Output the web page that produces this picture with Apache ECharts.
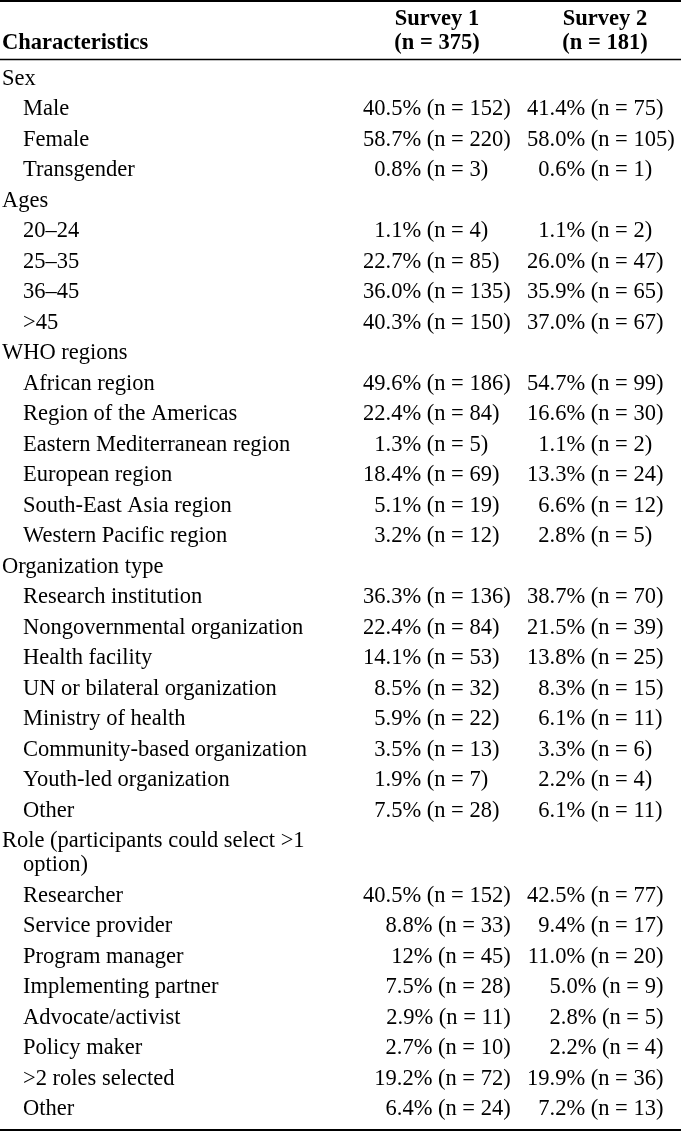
<!DOCTYPE html>
<html>
<head>
<meta charset="utf-8">
<script src="https://cdn.jsdelivr.net/npm/echarts@6/dist/echarts.min.js"></script>
<style>
html, body { margin: 0; padding: 0; background: #fff; }
#chart { width: 681px; height: 1132px; }
</style>
</head>
<body>
<div id="chart"></div>
<script>
// header texts
var colHeads = ["Characteristics", "Survey 1", "(n = 375)", "Survey 2", "(n = 181)"];
var sections = ["Sex", "Ages", "WHO regions", "Organization type", "Role (participants could select >1\noption)"];

var sexLabels = ["Male", "Female", "Transgender"];
var sexPct1 = ["40.5", "58.7", "0.8"];
var sexN1 = [152, 220, 3];
var sexPct2 = ["41.4", "58.0", "0.6"];
var sexN2 = [75, 105, 1];

var ageLabels = ["20\u201324", "25\u201335", "36\u201345", ">45"];
var agePct1 = ["1.1", "22.7", "36.0", "40.3"];
var ageN1 = [4, 85, 135, 150];
var agePct2 = ["1.1", "26.0", "35.9", "37.0"];
var ageN2 = [2, 47, 65, 67];

var whoLabels = ["African region", "Region of the Americas", "Eastern Mediterranean region", "European region", "South-East Asia region", "Western Pacific region"];
var whoPct1 = ["49.6", "22.4", "1.3", "18.4", "5.1", "3.2"];
var whoN1 = [186, 84, 5, 69, 19, 12];
var whoPct2 = ["54.7", "16.6", "1.1", "13.3", "6.6", "2.8"];
var whoN2 = [99, 30, 2, 24, 12, 5];

var orgLabels = ["Research institution", "Nongovernmental organization", "Health facility", "UN or bilateral organization", "Ministry of health", "Community-based organization", "Youth-led organization", "Other"];
var orgPct1 = ["36.3", "22.4", "14.1", "8.5", "5.9", "3.5", "1.9", "7.5"];
var orgN1 = [136, 84, 53, 32, 22, 13, 7, 28];
var orgPct2 = ["38.7", "21.5", "13.8", "8.3", "6.1", "3.3", "2.2", "6.1"];
var orgN2 = [70, 39, 25, 15, 11, 6, 4, 11];

var roleLabels = ["Researcher", "Service provider", "Program manager", "Implementing partner", "Advocate/activist", "Policy maker", ">2 roles selected", "Other"];
var rolePct1 = ["40.5", "8.8", "12", "7.5", "2.9", "2.7", "19.2", "6.4"];
var roleN1 = [152, 33, 45, 28, 11, 10, 72, 24];
var rolePct2 = ["42.5", "9.4", "11.0", "5.0", "2.8", "2.2", "19.9", "7.2"];
var roleN2 = [77, 17, 20, 9, 5, 4, 36, 13];

var groups = [
    [sexLabels, sexPct1, sexN1, sexPct2, sexN2],
    [ageLabels, agePct1, ageN1, agePct2, ageN2],
    [whoLabels, whoPct1, whoN1, whoPct2, whoN2],
    [orgLabels, orgPct1, orgN1, orgPct2, orgN2],
    [roleLabels, rolePct1, roleN1, rolePct2, roleN2]
];

var FONT_SIZE = 22.5;
var FONT = FONT_SIZE + 'px "Liberation Serif", "Times New Roman", serif';
var BOLD = 'bold ' + FONT;

var ctx = document.createElement("canvas").getContext("2d");
ctx.font = FONT;
function textW(s) { return ctx.measureText(s).width; }

var rowStart = 79, rowGap = 30.5, wrapGap = 24;
var labelX = 2, indentX = 23;
var dot1 = 385.5, dot2 = 549.5;
var head1 = 437, head2 = 605;
// right edges for the right-aligned last block
var right1 = dot1 + textW(".5% (n = 152)");
var right2 = dot2 + textW(".4% (n = 75)");

function cellText(p, n) { return p + "% (n = " + n + ")"; }

var cells = [];
cells.push({ x: labelX, y: 43, text: colHeads[0], align: "left", bold: true });
cells.push({ x: head1, y: 19, text: colHeads[1], align: "center", bold: true });
cells.push({ x: head1, y: 43, text: colHeads[2], align: "center", bold: true });
cells.push({ x: head2, y: 19, text: colHeads[3], align: "center", bold: true });
cells.push({ x: head2, y: 43, text: colHeads[4], align: "center", bold: true });

var y = rowStart;
groups.forEach(function (g, gi) {
    var lines = sections[gi].split("\n");
    lines.forEach(function (ln, li) {
        cells.push({ x: li ? indentX : labelX, y: y + li * wrapGap, text: ln, align: "left" });
    });
    y += (lines.length - 1) * wrapGap + rowGap;
    var rightAligned = gi === groups.length - 1;
    g[0].forEach(function (lab, i) {
        cells.push({ x: indentX, y: y, text: lab, align: "left" });
        [[g[1][i], g[2][i], dot1, right1], [g[3][i], g[4][i], dot2, right2]].forEach(function (c) {
            var txt = cellText(c[0], c[1]);
            if (rightAligned) {
                cells.push({ x: c[3], y: y, text: txt, align: "right" });
            } else {
                var k = txt.indexOf(".");
                cells.push({ x: c[2], y: y, text: txt.slice(0, k), align: "right" });
                cells.push({ x: c[2], y: y, text: txt.slice(k), align: "left" });
            }
        });
        y += rowGap;
    });
});

var rules = [[1, 2], [59.5, 1.5], [1130, 2]];

var chart = echarts.init(document.getElementById("chart"));
var series = [{
    type: "custom",
    clip: false,
    silent: true,
    data: cells.map(function (c) { return [c.x, c.y]; }),
    renderItem: function (params, api) {
        var c = cells[params.dataIndex];
        var p = api.coord([api.value(0), api.value(1)]);
        return {
            type: "text",
            x: p[0],
            y: p[1],
            style: {
                text: c.text,
                font: c.bold ? BOLD : FONT,
                fill: "#000",
                align: c.align,
                verticalAlign: "middle"
            }
        };
    }
}];
rules.forEach(function (r) {
    series.push({
        type: "line",
        silent: true,
        symbol: "none",
        data: [[0, r[0]], [681, r[0]]],
        lineStyle: { color: "#000", width: r[1] }
    });
});

chart.setOption({
    animation: false,
    grid: { left: 0, right: 0, top: 0, bottom: 0 },
    xAxis: { type: "value", min: 0, max: 681, show: false },
    yAxis: { type: "value", min: 0, max: 1132, inverse: true, show: false },
    series: series
});
</script>
</body>
</html>
